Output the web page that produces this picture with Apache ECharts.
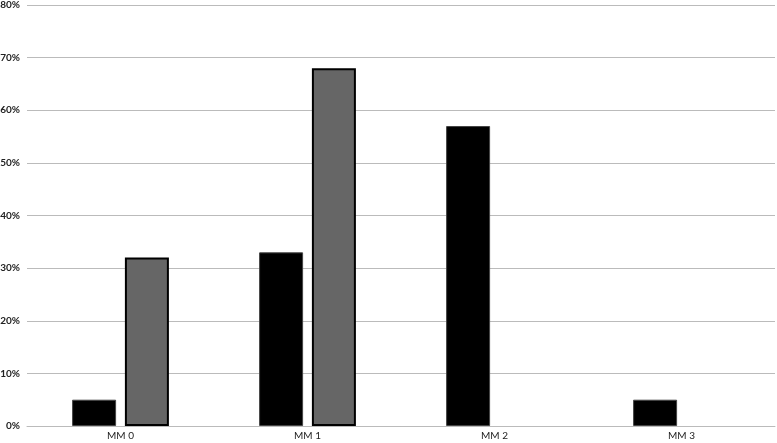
<!DOCTYPE html>
<html>
<head>
<meta charset="utf-8">
<script src="https://cdn.jsdelivr.net/npm/echarts@6/dist/echarts.min.js"></script>
<style>
  html, body { margin: 0; padding: 0; background: #fff; }
  #chart { width: 777px; height: 443px; }
</style>
</head>
<body>
<div id="chart"></div>
<script>
// categories along the x axis
const categories = ['MM 0', 'MM 1', 'MM 2', 'MM 3']
// series values in percent
const blackValues = [5, 33, 57, 5]
const grayValues = [32, 68, null, null]

let chart = echarts.init(document.getElementById('chart'))
let option = {
  animation: false,
  grid: {
    left: 27,
    right: 2,
    top: 5,
    bottom: 17,
    outerBoundsMode: 'none',
    containLabel: false
  },
  xAxis: {
    type: 'category',
    data: categories,
    axisLine: {
      show: true,
      lineStyle: { color: '#bbb', width: 1 }
    },
    axisTick: { show: false },
    axisLabel: {
      color: '#222',
      fontFamily: 'Lato',
      fontSize: 10,
      margin: 5
    }
  },
  yAxis: {
    type: 'value',
    min: 0,
    max: 80,
    interval: 10,
    axisLine: { show: false },
    axisTick: { show: false },
    splitLine: {
      lineStyle: { color: '#bbb', width: 1 }
    },
    axisLabel: {
      formatter: '{value}%',
      color: '#222',
      fontFamily: 'Lato',
      fontSize: 10,
      fontWeight: 'bold',
      margin: 7
    }
  },
  series: [
    {
      type: 'bar',
      data: blackValues,
      barWidth: 44,
      barGap: '20%',
      itemStyle: {
        color: '#000',
        borderColor: '#444',
        borderWidth: 1
      }
    },
    {
      type: 'bar',
      data: grayValues,
      barWidth: 44,
      itemStyle: {
        color: '#666',
        borderColor: '#000',
        borderWidth: 2
      }
    }
  ]
}
chart.setOption(option)
</script>
</body>
</html>
